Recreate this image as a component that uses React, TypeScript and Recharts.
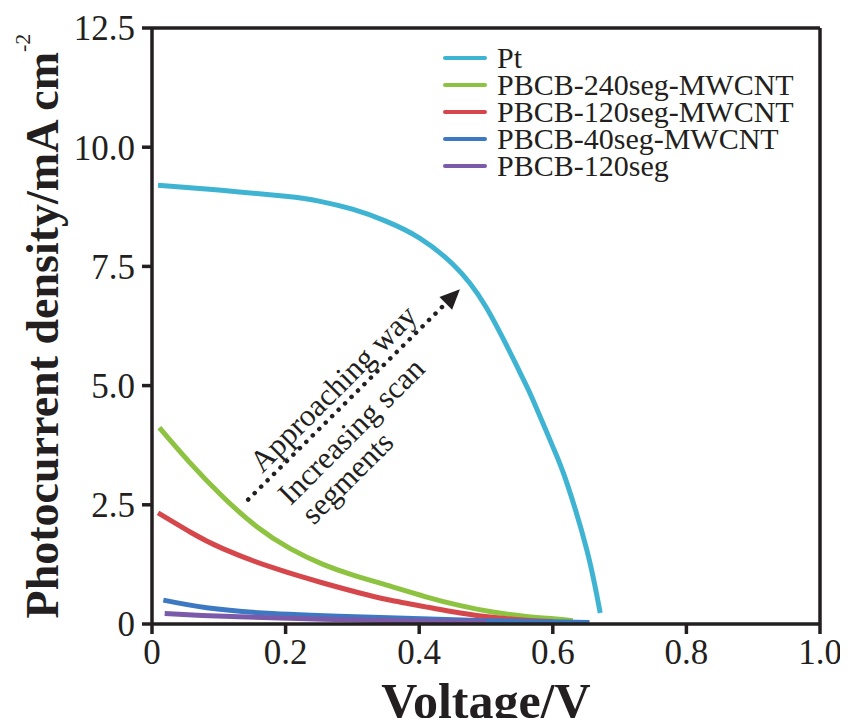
import {
  LineChart,
  Line,
  XAxis,
  YAxis,
  Legend,
  ReferenceLine,
  ReferenceDot,
} from "recharts";

// no scrollbars: the page is exactly the chart
if (typeof document !== "undefined") {
  document.documentElement.style.overflow = "hidden";
}

const FONT = '"Liberation Serif", "Times New Roman", serif';
const INK = "#231f20";

// voltage (V) / photocurrent density (mA cm-2) pairs
const PT_V = [0.009, 0.1, 0.2, 0.25, 0.3, 0.35, 0.4, 0.45, 0.5, 0.55, 0.57, 0.6, 0.621, 0.651, 0.671];
const PT_J = [9.2, 9.1, 8.97, 8.87, 8.7, 8.45, 8.1, 7.55, 6.65, 5.3, 4.71, 3.72, 2.96, 1.55, 0.23];

const G240_V = [0.011, 0.057, 0.106, 0.157, 0.207, 0.256, 0.3, 0.35, 0.41, 0.46, 0.51, 0.56, 0.61, 0.63];
const G240_J = [4.12, 3.38, 2.67, 2.04, 1.58, 1.25, 1.03, 0.82, 0.57, 0.39, 0.25, 0.16, 0.1, 0.07];

const G120_V = [0.009, 0.057, 0.106, 0.181, 0.256, 0.311, 0.35, 0.41, 0.486, 0.56, 0.6];
const G120_J = [2.33, 1.93, 1.58, 1.18, 0.86, 0.65, 0.52, 0.36, 0.18, 0.08, 0.05];

const G40_V = [0.017, 0.082, 0.18, 0.33, 0.5, 0.655];
const G40_J = [0.5, 0.34, 0.22, 0.14, 0.07, 0.03];

const P120_V = [0.019, 0.13, 0.33, 0.5];
const P120_J = [0.22, 0.15, 0.08, 0.04];

const X_TICKS = [0, 0.2, 0.4, 0.6, 0.8, 1.0];
const Y_TICKS = [0, 2.5, 5, 7.5, 10, 12.5];

const SERIES = [
  { name: "Pt", v: PT_V, j: PT_J, color: "#3fb4d2" },
  { name: "PBCB-240seg-MWCNT", v: G240_V, j: G240_J, color: "#8dc341" },
  { name: "PBCB-120seg-MWCNT", v: G120_V, j: G120_J, color: "#d6474b" },
  { name: "PBCB-40seg-MWCNT", v: G40_V, j: G40_J, color: "#3d78c2" },
  { name: "PBCB-120seg", v: P120_V, j: P120_J, color: "#7b5ba9" },
];

// annotation arrow (data coords) and rotated labels
const ARROW_FROM = { x: 0.144, y: 2.61 };
const ARROW_TO = { x: 0.461, y: 7.02 };
const NOTES = [
  { text: "Approaching way", x: 0.271, y: 4.94 },
  { text: "Increasing scan", x: 0.298, y: 4.05 },
  { text: "segments", x: 0.292, y: 3.07 },
];

const fmt = (v: number) => (v === 0 ? "0" : v.toFixed(1));

function Arrow(props: any) {
  const { x1, y1, x2, y2 } = props;
  const ang = Math.atan2(y2 - y1, x2 - x1);
  const len = 20;
  const half = 9;
  const bx = x2 - len * Math.cos(ang);
  const by = y2 - len * Math.sin(ang);
  const px = -Math.sin(ang) * half;
  const py = Math.cos(ang) * half;
  return (
    <g>
      <line
        x1={x1}
        y1={y1}
        x2={bx}
        y2={by}
        stroke={INK}
        strokeWidth={4.5}
        strokeDasharray="0.1 9"
        strokeLinecap="round"
      />
      <polygon
        points={`${x2},${y2} ${bx + px},${by + py} ${bx - px},${by - py}`}
        fill={INK}
      />
    </g>
  );
}

function Note(text: string) {
  return (p: any) => (
    <text
      x={p.cx}
      y={p.cy}
      transform={`rotate(-45 ${p.cx} ${p.cy})`}
      textAnchor="middle"
      dominantBaseline="central"
      fontFamily={FONT}
      fontSize={31}
      fill={INK}
    >
      {text}
    </text>
  );
}

function LegendBox() {
  return (
    <div style={{ fontFamily: FONT, fontSize: 30, color: INK }}>
      {SERIES.map((s) => (
        <div
          key={s.name}
          style={{ display: "flex", alignItems: "center", height: 27, lineHeight: "27px" }}
        >
          <span
            style={{
              display: "inline-block",
              width: 44,
              height: 4,
              background: s.color,
              marginRight: 10,
              borderRadius: 2,
            }}
          />
          <span>{s.name}</span>
        </div>
      ))}
    </div>
  );
}

function YTitle(props: any) {
  const vb = props.viewBox;
  const cx = vb.x + 42;
  const cy = vb.y + vb.height / 2;
  return (
    <text
      x={cx}
      y={cy}
      transform={`rotate(-90 ${cx} ${cy})`}
      textAnchor="middle"
      dominantBaseline="central"
      fontFamily={FONT}
      fontWeight="bold"
      fontSize={46}
      fill={INK}
    >
      Photocurrent density/mA cm
      <tspan fontSize={22} fontWeight="normal" dy={-20}>
        -2
      </tspan>
    </text>
  );
}

function XTitle(props: any) {
  const vb = props.viewBox;
  return (
    <text
      x={vb.x + vb.width / 2}
      y={vb.y + 94}
      textAnchor="middle"
      fontFamily={FONT}
      fontWeight="bold"
      fontSize={50}
      fill={INK}
    >
      Voltage/V
    </text>
  );
}

export default function App() {
  const tickStyle = { fontFamily: FONT, fontSize: 35, fill: INK };
  return (
    <div style={{ margin: -8 }}>
      <LineChart
        width={848}
        height={726}
        margin={{ top: 28, right: 28, bottom: 0, left: 0 }}
      >
        <XAxis
          type="number"
          dataKey="v"
          domain={[0, 1]}
          ticks={X_TICKS}
          tickFormatter={fmt}
          tick={tickStyle}
          tickSize={10}
          tickMargin={5}
          height={102}
          axisLine={{ stroke: INK, strokeWidth: 3.5 }}
          tickLine={{ stroke: INK, strokeWidth: 3.5 }}
          allowDuplicatedCategory={false}
          label={<XTitle />}
        />
        <YAxis
          type="number"
          domain={[0, 12.5]}
          ticks={Y_TICKS}
          tickFormatter={fmt}
          tick={tickStyle}
          tickSize={10}
          tickMargin={7}
          width={152}
          axisLine={{ stroke: INK, strokeWidth: 3.5 }}
          tickLine={{ stroke: INK, strokeWidth: 3.5 }}
          label={<YTitle />}
        />
        {/* box frame: top and right edges */}
        <ReferenceLine y={12.5} stroke={INK} strokeWidth={3.5} />
        <ReferenceLine x={1} stroke={INK} strokeWidth={3.5} />
        {SERIES.map((s) => (
          <Line
            key={s.name}
            data={s.v.map((v, i) => ({ v, j: s.j[i] }))}
            dataKey="j"
            name={s.name}
            type="natural"
            stroke={s.color}
            strokeWidth={5}
            dot={false}
            isAnimationActive={false}
          />
        ))}
        <ReferenceLine segment={[ARROW_FROM, ARROW_TO]} shape={Arrow} />
        {NOTES.map((n) => (
          <ReferenceDot
            key={n.text}
            x={n.x}
            y={n.y}
            r={0}
            shape={Note(n.text)}
          />
        ))}
        <Legend
          content={<LegendBox />}
          layout="vertical"
          verticalAlign="middle"
          align="center"
          wrapperStyle={{ top: 44, left: 443, width: "auto" }}
        />
      </LineChart>
    </div>
  );
}
